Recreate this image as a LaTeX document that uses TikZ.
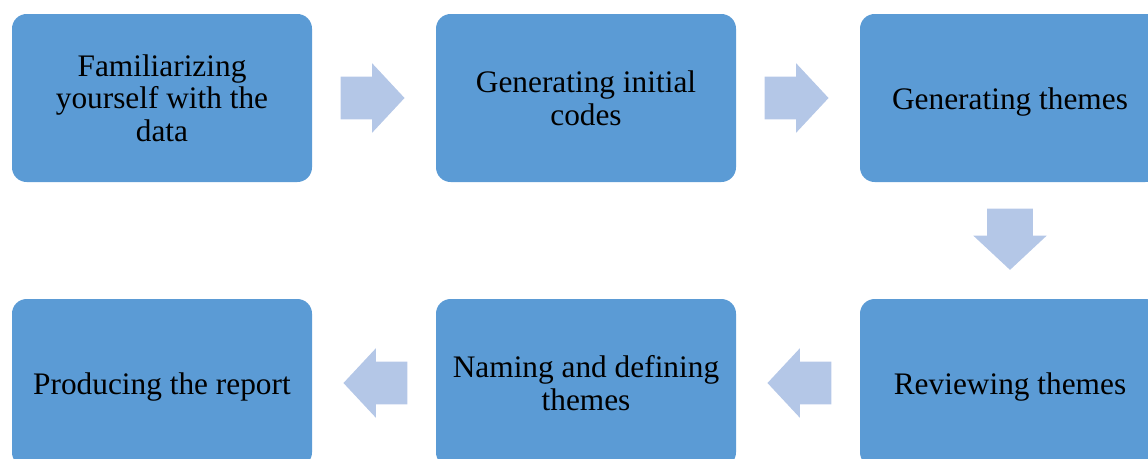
\documentclass[tikz,border=0pt]{standalone}
\usepackage{fontspec}
\setmainfont{Liberation Serif}
\usetikzlibrary{positioning, shapes.arrows, calc}
\definecolor{azul}{RGB}{91, 155, 213}
\definecolor{azulclaro}{RGB}{180, 199, 231}
\begin{document}
\begin{tikzpicture}[
    x=0.75pt, y=-0.75pt,
    etapa/.style={
        fill=azul,
        rounded corners=11pt,
        align=center,
        minimum width=225pt,
        minimum height=126pt,
        inner sep=0pt,
        font=\fontsize{23.5}{24.5}\selectfont
    },
    linha/.style={text height=22pt, text depth=5pt},
    seta/.style={
        single arrow,
        fill=azulclaro,
        inner xsep=0pt,
        inner ysep=15.75pt,
        minimum width=52pt,
        minimum height=48pt,
        single arrow head extend=10pt,
        single arrow tip angle=94
    },
    setabaixo/.style={
        seta,
        inner xsep=16.5pt,
        inner ysep=0pt,
        minimum width=55pt,
        minimum height=46pt,
        shape border rotate=270
    }
]

\useasboundingbox (0,0) rectangle (1148,458);
\clip (0,0) rectangle (1148,458);

% Linha superior
\node[etapa] (familiar) at (162,98) {Familiarizing\\yourself with the\\data};
\node[etapa] (codigos) at (586,98) {Generating initial\\codes};
\node[etapa, linha] (gerar) at (1010,98) {Generating themes};

% Linha inferior
\node[etapa, linha] (revisar) at (1010,383) {Reviewing themes};
\node[etapa] (nomear) at (586,383) {Naming and defining\\themes};
\node[etapa, linha] (relatorio) at (162,383) {Producing the report};

% Setas
\node[seta, right=21pt of familiar, anchor=tail] (s1) {};
\node[seta, right=21pt of codigos, anchor=tail] (s2) {};
\node[setabaixo, below=19.5pt of gerar, anchor=tail] (s3) {};
\node[seta, shape border rotate=180, left=21pt of revisar, anchor=tail] (s4) {};
\node[seta, shape border rotate=180, left=21pt of nomear, anchor=tail] (s5) {};

\end{tikzpicture}
\end{document}
